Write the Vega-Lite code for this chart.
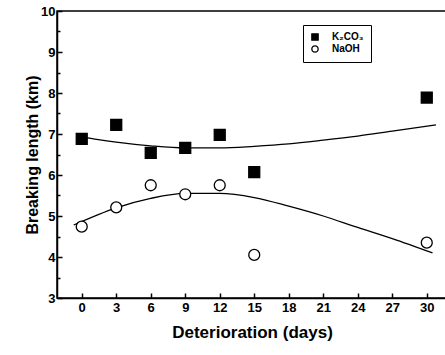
{
  "$schema": "https://vega.github.io/schema/vega-lite/v6.json",
  "width": 390,
  "height": 287,
  "autosize": {"type": "none"},
  "padding": {"left": 57, "top": 11, "right": 0, "bottom": 57},
  "background": "white",
  "config": {
    "view": {"stroke": "black", "strokeWidth": 1.5},
    "axis": {
      "grid": false,
      "domainColor": "black",
      "domainWidth": 1.5,
      "tickColor": "black",
      "tickWidth": 1.5,
      "tickSize": -5,
      "labelFont": "Liberation Sans",
      "labelFontWeight": "bold",
      "labelFontSize": 13,
      "labelColor": "black",
      "titleFont": "Liberation Sans",
      "titleFontWeight": "bold",
      "titleColor": "black"
    },
    "legend": {
      "labelFont": "Liberation Sans",
      "labelFontWeight": "bold",
      "labelFontSize": 10,
      "labelColor": "black"
    }
  },
  "datasets": {
    "points": [
      {"series": "K₂CO₃", "day": 0, "value": 6.88},
      {"series": "K₂CO₃", "day": 3, "value": 7.22},
      {"series": "K₂CO₃", "day": 6, "value": 6.54},
      {"series": "K₂CO₃", "day": 9, "value": 6.66},
      {"series": "K₂CO₃", "day": 12, "value": 6.98},
      {"series": "K₂CO₃", "day": 15, "value": 6.07},
      {"series": "K₂CO₃", "day": 30, "value": 7.89},
      {"series": "NaOH", "day": 0, "value": 4.74},
      {"series": "NaOH", "day": 3, "value": 5.21},
      {"series": "NaOH", "day": 6, "value": 5.75},
      {"series": "NaOH", "day": 9, "value": 5.53},
      {"series": "NaOH", "day": 12, "value": 5.75},
      {"series": "NaOH", "day": 15, "value": 4.05},
      {"series": "NaOH", "day": 30, "value": 4.35}
    ],
    "fits": [
      {"series": "K₂CO₃", "day": 0.3, "value": 6.92},
      {"series": "K₂CO₃", "day": 3, "value": 6.8},
      {"series": "K₂CO₃", "day": 6, "value": 6.71},
      {"series": "K₂CO₃", "day": 9, "value": 6.66},
      {"series": "K₂CO₃", "day": 12, "value": 6.66},
      {"series": "K₂CO₃", "day": 15, "value": 6.7},
      {"series": "K₂CO₃", "day": 18, "value": 6.76},
      {"series": "K₂CO₃", "day": 21, "value": 6.85},
      {"series": "K₂CO₃", "day": 24, "value": 6.95},
      {"series": "K₂CO₃", "day": 27, "value": 7.07},
      {"series": "K₂CO₃", "day": 30.8, "value": 7.22},
      {"series": "NaOH", "day": -0.7, "value": 4.78},
      {"series": "NaOH", "day": 3, "value": 5.2},
      {"series": "NaOH", "day": 6, "value": 5.43},
      {"series": "NaOH", "day": 9, "value": 5.55},
      {"series": "NaOH", "day": 12, "value": 5.55},
      {"series": "NaOH", "day": 15, "value": 5.45},
      {"series": "NaOH", "day": 18, "value": 5.24},
      {"series": "NaOH", "day": 21, "value": 5.0},
      {"series": "NaOH", "day": 24, "value": 4.72},
      {"series": "NaOH", "day": 27, "value": 4.45},
      {"series": "NaOH", "day": 30.5, "value": 4.1}
    ]
  },
  "encoding": {
    "x": {
      "field": "day",
      "type": "quantitative",
      "scale": {"domain": [-2.15, 31.76], "nice": false, "zero": false},
      "axis": {
        "title": "Deterioration (days)",
        "titleFontSize": 17,
        "titlePadding": 10,
        "labelPadding": 8,
        "values": [0, 3, 6, 9, 12, 15, 18, 21, 24, 27, 30]
      }
    },
    "y": {
      "field": "value",
      "type": "quantitative",
      "scale": {"domain": [3, 10], "nice": false, "zero": false},
      "axis": {
        "title": "Breaking length (km)",
        "titleFontSize": 16,
        "titlePadding": 0,
        "labelPadding": 7,
        "values": [3, 3.5, 4, 4.5, 5, 5.5, 6, 6.5, 7, 7.5, 8, 8.5, 9, 9.5, 10],
        "labelExpr": "datum.value % 1 === 0 ? format(datum.value, 'd') : ''",
        "tickSize": {"condition": {"test": "datum.value % 1 === 0", "value": -5}, "value": -3}
      }
    }
  },
  "layer": [
    {
      "data": {"name": "fits"},
      "mark": {"type": "line", "color": "black", "strokeWidth": 1.3, "interpolate": "monotone"},
      "encoding": {"detail": {"field": "series"}}
    },
    {
      "data": {"name": "points"},
      "mark": {"type": "point", "filled": false, "strokeWidth": 1.3, "opacity": 1},
      "encoding": {
        "shape": {
          "field": "series",
          "type": "nominal",
          "scale": {"domain": ["K₂CO₃", "NaOH"], "range": ["square", "circle"]},
          "legend": {
            "title": null,
            "orient": "none",
            "legendX": 246,
            "legendY": 14,
            "strokeColor": "black",
            "padding": 7,
            "symbolSize": 40,
            "rowPadding": 0,
            "labelOffset": 12,
            "symbolStrokeWidth": 1.3
          }
        },
        "fill": {
          "field": "series",
          "type": "nominal",
          "scale": {"domain": ["K₂CO₃", "NaOH"], "range": ["black", "white"]},
          "legend": {
            "title": null,
            "orient": "none",
            "legendX": 246,
            "legendY": 14,
            "strokeColor": "black",
            "padding": 7,
            "symbolSize": 40,
            "rowPadding": 0,
            "labelOffset": 12,
            "symbolStrokeWidth": 1.3
          }
        },
        "stroke": {"value": "black"},
        "size": {"value": 120}
      }
    }
  ]
}
